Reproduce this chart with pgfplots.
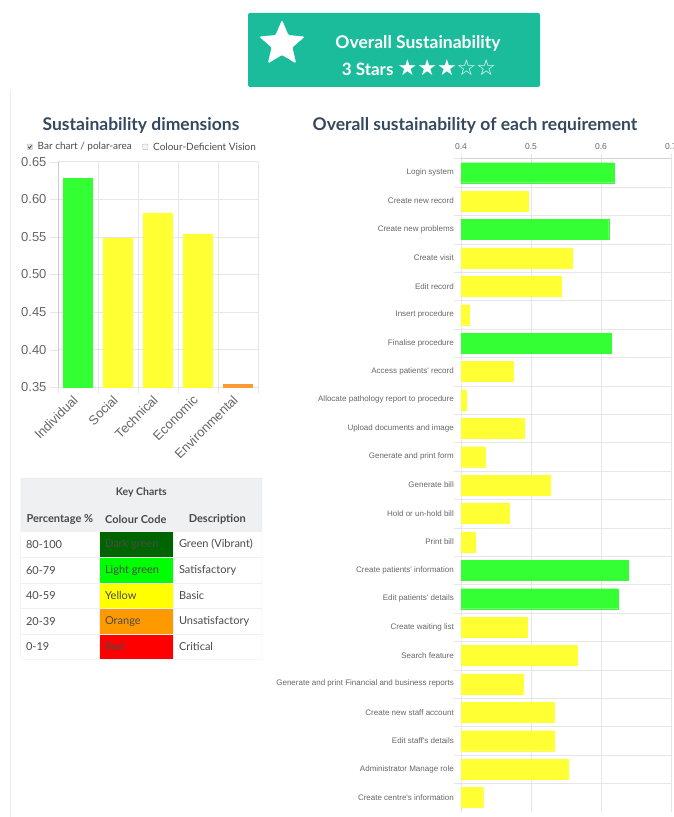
\documentclass[border=0pt]{standalone}
\usepackage{pgfplots}
\pgfplotsset{compat=1.18}
\usepackage{fontspec}
\setmainfont{Lato}
\newfontfamily\arial{Liberation Sans}
\newfontfamily\dejavu{DejaVu Sans}
\usetikzlibrary{shapes.geometric}
\definecolor{bannerteal}{HTML}{1ABC9C}
\definecolor{titlec}{HTML}{34495E}
\definecolor{barg}{HTML}{33FF33}
\definecolor{bary}{HTML}{FFFF33}
\definecolor{baro}{HTML}{FF9933}
\definecolor{gridc}{HTML}{E6E6E6}
\definecolor{tickc}{HTML}{666666}
\definecolor{txtc}{HTML}{4A4A4A}
\definecolor{hdrc}{HTML}{EEF0F1}
\definecolor{kdg}{HTML}{006400}
\definecolor{klg}{HTML}{00FF00}
\definecolor{kye}{HTML}{FFFF00}
\definecolor{kor}{HTML}{FF9900}
\definecolor{kre}{HTML}{FF0000}
\begin{document}
\begin{tikzpicture}
\begin{scope}[x=1pt,y=1pt]
\path (0,0) rectangle (673,817);
% page rule
\draw[gray!15] (10,0) -- (10,727);
% banner
\fill[bannerteal, rounded corners=2pt] (248,730) rectangle (540,804);
\node[star, star points=5, star point ratio=2.2, fill=white, draw=white, rounded corners=1.2pt, minimum size=47pt, inner sep=0pt] at (282,773) {};
\node[white, font=\bfseries\fontsize{17.5}{20}\selectfont] at (418,773.5) {Overall Sustainability};
\node[white, font=\bfseries\fontsize{17}{20}\selectfont, anchor=base] at (419,741) {3 Stars {\dejavu\fontsize{22}{22}\selectfont ★★★☆☆}};
% titles
\node[text=titlec, font=\bfseries\fontsize{17.5}{20}\selectfont] at (141,692) {Sustainability dimensions};
\node[text=titlec, font=\bfseries\fontsize{17.5}{20}\selectfont] at (475,692) {Overall sustainability of each requirement};
% checkboxes
\draw[gray!55, fill=gray!20, rounded corners=0.8pt] (27,667.3) rectangle (32.5,672.8);
\draw[black!70, line width=0.9pt] (28.2,670.2) -- (29.5,668.7) -- (31.5,671.6);
\draw[gray!55, fill=gray!8, rounded corners=0.8pt] (142.5,667.3) rectangle (148,672.8);
\node[anchor=west, text=txtc, font=\fontsize{10}{12}\selectfont, inner sep=0pt] at (37.5,670) {Bar chart / polar-area};
\node[anchor=west, text=txtc, font=\fontsize{10}{12}\selectfont, inner sep=0pt] at (153,670) {Colour-Deficient Vision};
% key table
\fill[hdrc] (20.7,285.3) rectangle (262,339);
\fill[white] (20.7,157.7) rectangle (262,285.3);
\fill[kdg] (99,259.7) rectangle (172.7,285.3);
\fill[klg] (99,233.7) rectangle (172.7,259.7);
\fill[kye] (99,208.7) rectangle (172.7,233.7);
\fill[kor] (99,183) rectangle (172.7,208.7);
\fill[kre] (99,157.7) rectangle (172.7,183);
\foreach \yy in {311,285.3,259.7,233.7,208.7,183} {\draw[gray!12] (20.7,\yy) -- (262,\yy);}
\foreach \xx in {99,172.7} {\draw[gray!12] (\xx,157.7) -- (\xx,311);}
\draw[gray!20, rounded corners=1.5pt] (20.7,157.7) rectangle (262,339);
\node[text=txtc, font=\bfseries\fontsize{10.5}{12}\selectfont] at (141.3,325) {Key Charts};
\node[text=txtc, font=\bfseries\fontsize{11}{12}\selectfont] at (59.8,298) {Percentage \%};
\node[text=txtc, font=\bfseries\fontsize{11}{12}\selectfont] at (135.8,298) {Colour Code};
\node[text=txtc, font=\bfseries\fontsize{11}{12}\selectfont] at (217.3,298) {Description};
\foreach \yy/\pp/\cc/\dd in {272.5/80-100/Dark green/Green (Vibrant), 246.7/60-79/Light green/Satisfactory, 221.2/40-59/Yellow/Basic, 195.8/20-39/Orange/Unsatisfactory, 170.3/0-19/Red/Critical} {
  \node[anchor=west, text=txtc, font=\fontsize{11}{12}\selectfont] at (22.5,\yy) {\pp};
  \node[anchor=west, text=txtc, font=\fontsize{11}{12}\selectfont] at (101.5,\yy) {\cc};
  \node[anchor=west, text=txtc, font=\fontsize{11}{12}\selectfont] at (175.5,\yy) {\dd};
}
\end{scope}

% left chart
\begin{axis}[
 at={(58pt,429.7pt)}, anchor=south west, scale only axis, width=200pt, height=225.6pt,
 xmin=-0.5, xmax=4.5, ymin=0.35, ymax=0.65,
 ybar, bar width=29pt,
 axis x line*=bottom, axis y line*=left,
 x axis line style={draw=gridc}, y axis line style={draw=gray!40},
 xtick={0,1,2,3,4}, xticklabels={Individual,Social,Technical,Economic,Environmental},
 major x tick style={draw=none},
 minor xtick={-0.5,0.5,1.5,2.5,3.5,4.5}, xminorgrids, minor grid style={draw=gridc},
 minor tick style={draw=gridc}, minor tick length=6pt,
 ytick={0.35,0.40,0.45,0.50,0.55,0.60,0.65}, ymajorgrids, major grid style={draw=gridc},
 major y tick style={draw=gridc}, major tick length=8pt, tick align=outside,
 /pgf/number format/assume math mode=true,
 yticklabel style={font=\arial\fontsize{13}{15}\selectfont, text=tickc, /pgf/number format/.cd, fixed, fixed zerofill, precision=2},
 xticklabel style={font=\arial\fontsize{13}{15}\selectfont, text=tickc, rotate=45, anchor=east},
]
\addplot[fill=barg, draw=barg, bar shift=0pt] coordinates {(0,0.628)};
\addplot[fill=bary, draw=bary, bar shift=0pt] coordinates {(1,0.548) (2,0.582) (3,0.554)};
\addplot[fill=baro, draw=baro, bar shift=0pt] coordinates {(4,0.354)};
\end{axis}

% right chart
\begin{axis}[
 at={(461pt,5.3pt)}, anchor=south west, scale only axis, width=210pt, height=653.2pt,
 xmin=0.4, xmax=0.7, ymin=-0.5, ymax=22.5, y dir=reverse,
 xbar, bar width=20pt,
 axis x line*=top, axis y line*=left,
 x axis line style={draw=gray!35}, y axis line style={draw=none},
 xtick={0.4,0.5,0.6,0.7}, xmajorgrids, major grid style={draw=gridc},
 major x tick style={draw=gridc},
 ytick={0,...,22},
 yticklabels={Login system,Create new record,Create new problems,Create visit,Edit record,Insert procedure,Finalise procedure,Access patients' record,Allocate pathology report to procedure,Upload documents and image,Generate and print form,Generate bill,Hold or un-hold bill,Print bill,Create patients' information,Edit patients' details,Create waiting list,Search feature,Generate and print Financial and business reports,Create new staff account,Edit staff's details,Administrator Manage role,Create centre's information},
 major y tick style={draw=none},
 minor ytick={-0.5,0.5,...,21.5}, yminorgrids, minor grid style={draw=gridc},
 minor tick style={draw=gridc}, minor tick length=7pt,
 tick align=outside, major tick length=5pt,
 /pgf/number format/assume math mode=true,
 xticklabel style={font=\arial\fontsize{8.5}{10}\selectfont, text=tickc, /pgf/number format/.cd, fixed, fixed zerofill, precision=1},
 yticklabel style={font=\arial\fontsize{8}{10}\selectfont, text=tickc, inner sep=2pt},
]
\addplot[fill=barg, draw=barg, bar shift=0pt] coordinates {(0.619,0) (0.611,2) (0.614,6) (0.639,14) (0.625,15)};
\addplot[fill=bary, draw=bary, bar shift=0pt] coordinates {(0.496,1) (0.559,3) (0.543,4) (0.412,5) (0.475,7) (0.408,8) (0.490,9) (0.434,10) (0.527,11) (0.469,12) (0.420,13) (0.495,16) (0.566,17) (0.489,18) (0.533,19) (0.533,20) (0.553,21) (0.431,22)};
\end{axis}
\pgfresetboundingbox
\path[use as bounding box] (0pt,0pt) rectangle (673pt,817pt);
\end{tikzpicture}
\end{document}
